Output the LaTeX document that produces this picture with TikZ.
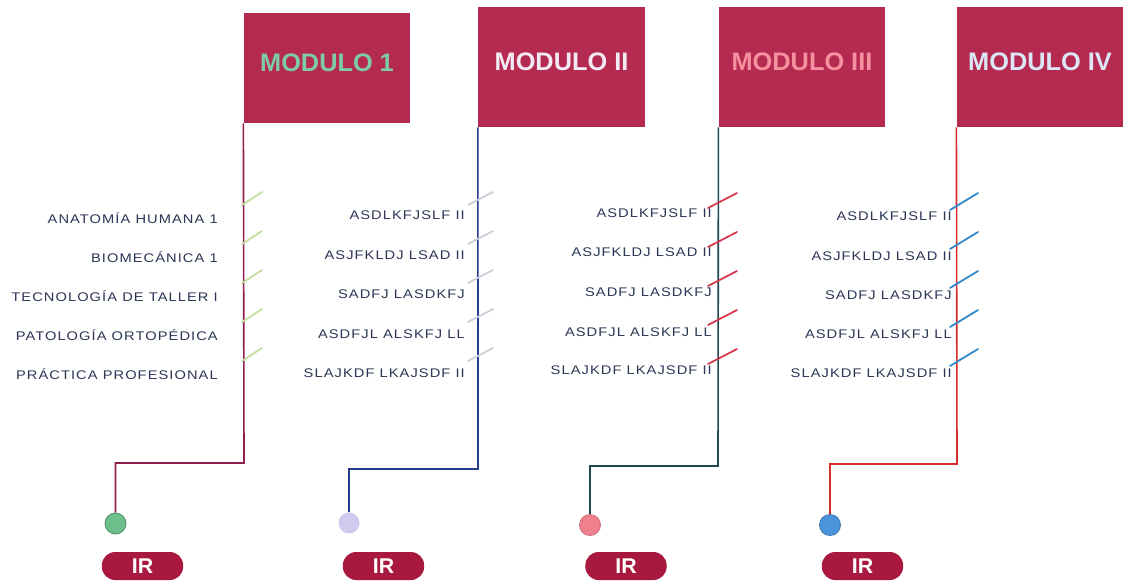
\documentclass[tikz,border=0pt]{standalone}
\usepackage{fontspec}
\setmainfont{Liberation Sans}
\newfontfamily\listfont[FakeStretch=1.17,LetterSpace=8.5]{Liberation Sans}
\usepackage{tikz}
\definecolor{flagred}{HTML}{B42A50}
\definecolor{pillred}{HTML}{A8183F}
\definecolor{listnavy}{HTML}{2B3656}
\definecolor{poleone}{HTML}{8E1E4E}
\definecolor{poletwo}{HTML}{233C8C}
\definecolor{polethree}{HTML}{1E4850}
\definecolor{polefour}{HTML}{D52B2B}
\definecolor{tickone}{HTML}{C2DE9C}
\definecolor{ticktwo}{HTML}{CACED8}
\definecolor{tickthree}{HTML}{D8344A}
\definecolor{tickfour}{HTML}{2E86C8}
\definecolor{titleone}{HTML}{7ECBA8}
\definecolor{titletwo}{HTML}{F3EAF3}
\definecolor{titlethree}{HTML}{F7909E}
\definecolor{titlefour}{HTML}{DCE6F5}
\definecolor{dotone}{HTML}{6DBF8C}
\definecolor{dottwo}{HTML}{CFCBEF}
\definecolor{dotthree}{HTML}{F0808E}
\definecolor{dotfour}{HTML}{4A94DC}
\newcommand{\listtext}{\listfont\fontsize{9.4}{11}\selectfont}
\newcommand{\titletext}{\fontsize{19}{22}\selectfont\bfseries}

\begin{document}
\begin{tikzpicture}[x=0.75pt,y=-0.75pt,
  flagbox/.style={fill=flagred,draw=none,minimum width=125pt,minimum height=90pt,inner sep=0pt},
  modtitle/.style={font=\titletext,inner sep=0pt},
  itemtext/.style={font=\listtext,text=listnavy,anchor=base east,inner sep=0pt},
  pole/.style={line width=1.2pt},
  tick/.style={line width=1.3pt,line cap=round},
  dotmark/.style={circle,minimum size=15.75pt,inner sep=0pt,line width=0.6pt},
  irpill/.style={fill=pillred,rounded corners=10pt,minimum width=61pt,minimum height=21pt,inner sep=0pt,text=white,font=\fontsize{16}{18}\selectfont\bfseries}]
\useasboundingbox[fill=white] (0,0) rectangle (1128,583);

% flags
\node[flagbox,minimum height=82.5pt] (flagA) at (327,68) {};
\node[flagbox] (flagB) at (561.5,67) {};
\node[flagbox] (flagC) at (802,67) {};
\node[flagbox] (flagD) at (1040,67) {};
\node[modtitle,text=titleone] (titleA) at ([yshift=4pt]flagA.center) {MODULO 1};
\node[modtitle,text=titletwo] (titleB) at ([yshift=4pt]flagB.center) {MODULO II};
\node[modtitle,text=titlethree] (titleC) at ([yshift=4pt]flagC.center) {MODULO III};
\node[modtitle,text=titlefour] (titleD) at ([yshift=4pt]flagD.center) {MODULO IV};

% dots and buttons
\node[dotmark,fill=dotone,draw=dotone!75!black] (dotA) at (115.5,523.5) {};
\node[dotmark,fill=dottwo] (dotB) at (349,523) {};
\node[dotmark,fill=dotthree,draw=dotthree!85!black] (dotC) at (590,525) {};
\node[dotmark,fill=dotfour,draw=dotfour!80!black] (dotD) at (830,525) {};
\node[irpill] (irA) at (142.5,566) {IR};
\node[irpill] (irB) at (383.5,566) {IR};
\node[irpill] (irC) at (626,566) {IR};
\node[irpill] (irD) at (862.5,566) {IR};

% poles
\coordinate (bendA) at (244,463);
\coordinate (bendB) at (478,469);
\coordinate (bendC) at (718,466);
\coordinate (bendD) at (957,464);
\draw[pole,poleone] (flagA.south west) -- (bendA) -| (dotA.north);
\draw[pole,poletwo] (flagB.south west) -- (bendB) -| (dotB.north);
\draw[pole,polethree] (flagC.south west) -- (bendC) -| (dotC.north);
\draw[pole,polefour] (flagD.south west) -- (bendD) -| (dotD.north);

% ticks
\draw[tick,tickone] (242,205) -- ++(20,-13) (242,244) -- ++(20,-13) (242,283) -- ++(20,-13) (242,322) -- ++(20,-13) (242,361) -- ++(20,-13);
\draw[tick,ticktwo] (468,205) -- ++(25,-13) (468,244) -- ++(25,-13) (468,283) -- ++(25,-13) (468,322) -- ++(25,-13) (468,361) -- ++(25,-13);
\draw[tick,tickthree] (708,208) -- ++(29,-15) (708,247) -- ++(29,-15) (708,286) -- ++(29,-15) (708,325) -- ++(29,-15) (708,364) -- ++(29,-15);
\draw[tick,tickfour] (950,210) -- ++(28,-17) (950,249) -- ++(28,-17) (950,288) -- ++(28,-17) (950,327) -- ++(28,-17) (950,366) -- ++(28,-17);

% subjects, modulo 1
\node[itemtext] (itemA1) at (218,223) {ANATOMÍA HUMANA 1};
\node[itemtext] (itemA2) at (218,262) {BIOMECÁNICA 1};
\node[itemtext] (itemA3) at (218,301) {TECNOLOGÍA DE TALLER I};
\node[itemtext] (itemA4) at (218,340) {PATOLOGÍA ORTOPÉDICA};
\node[itemtext] (itemA5) at (218,379) {PRÁCTICA PROFESIONAL};
% modulo II
\node[itemtext] (itemB1) at (465,219) {ASDLKFJSLF II};
\node[itemtext] (itemB2) at (465,259) {ASJFKLDJ LSAD II};
\node[itemtext] (itemB3) at (465,298) {SADFJ LASDKFJ};
\node[itemtext] (itemB4) at (465,338) {ASDFJL ALSKFJ LL};
\node[itemtext] (itemB5) at (465,377) {SLAJKDF LKAJSDF II};
% modulo III
\node[itemtext] (itemC1) at (712,217) {ASDLKFJSLF II};
\node[itemtext] (itemC2) at (712,256) {ASJFKLDJ LSAD II};
\node[itemtext] (itemC3) at (712,296) {SADFJ LASDKFJ};
\node[itemtext] (itemC4) at (712,336) {ASDFJL ALSKFJ LL};
\node[itemtext] (itemC5) at (712,374) {SLAJKDF LKAJSDF II};
% modulo IV
\node[itemtext] (itemD1) at (952,220) {ASDLKFJSLF II};
\node[itemtext] (itemD2) at (952,260) {ASJFKLDJ LSAD II};
\node[itemtext] (itemD3) at (952,299) {SADFJ LASDKFJ};
\node[itemtext] (itemD4) at (952,338) {ASDFJL ALSKFJ LL};
\node[itemtext] (itemD5) at (952,377) {SLAJKDF LKAJSDF II};
\end{tikzpicture}
\end{document}
